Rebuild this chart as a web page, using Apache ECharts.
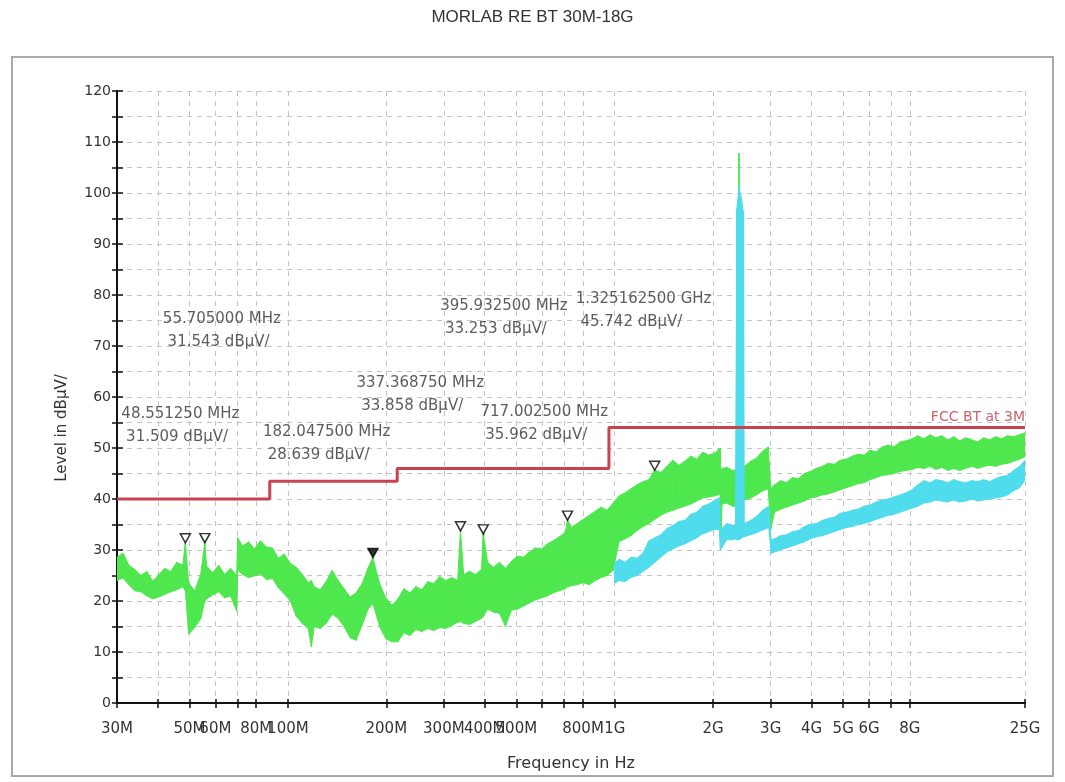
<!DOCTYPE html>
<html>
<head>
<meta charset="utf-8">
<script src="https://cdn.jsdelivr.net/npm/echarts@6/dist/echarts.min.js"></script>
<style>
html,body{margin:0;padding:0;background:#fff;}
#chart{width:1065px;height:782px;}
</style>
</head>
<body>
<div id="chart"></div>
<script>
// ---------- texts ----------
const chartTitle = 'MORLAB RE BT 30M-18G';
const xAxisName = 'Frequency in Hz';
const yAxisName = 'Level in dBµV/';
const limitName = 'FCC BT at 3M';

// ---------- axis ticks (frequency in MHz) ----------
const xTickFreqs  = [30, 40, 50, 60, 70, 80, 100, 200, 300, 400, 500, 600, 700, 800, 1000, 2000, 3000, 4000, 5000, 6000, 7000, 8000, 18000];
const xTickLabels = ['30M', '', '50M', '60M', '', '80M', '100M', '200M', '300M', '400M', '500M', '', '', '800M', '1G', '2G', '3G', '4G', '5G', '6G', '', '8G', '25G'];

// ---------- limit line ----------
const limitFreq  = [30, 88, 88, 216, 216, 960, 960, 18000];
const limitLevel = [40, 40, 43.5, 43.5, 46, 46, 54, 54];

// ---------- green trace (upper / lower envelope of the noisy sweep, MHz / dBµV) ----------
const greenFreq = [30, 31.3, 32.6, 34.0, 35.5, 37.0, 38.6, 40.3, 42.0, 43.8, 45.7, 47.7, 48.55, 49.7, 51.9, 54.1, 55.7, 56.4, 58.9, 61.4, 64.0, 66.8, 69.7, 70.2, 72.7, 75.8, 79.0, 82.4, 86.0, 89.7, 93.5, 97.5, 101.7, 106.1, 110.7, 115.4, 118, 120.4, 125.5, 130.9, 136.6, 142.5, 148.6, 155.0, 161.6, 168.6, 175.8, 182.05, 183.4, 191.3, 199.5, 208.1, 217.0, 226.4, 236.1, 246.3, 256.9, 267.9, 279.4, 291.4, 304.0, 317.0, 330.7, 337.37, 344.9, 359.7, 375.2, 391.3, 395.93, 408.2, 425.7, 444.0, 463.1, 483.1, 503.9, 525.5, 548.1, 571.7, 596.3, 621.9, 648.7, 676.6, 705.7, 717, 736.0, 767.7, 800.7, 835.1, 871.1, 908.5, 947.6, 988.4, 1031, 1075, 1121, 1170, 1220, 1272, 1325, 1384, 1444, 1506, 1571, 1638, 1709, 1782, 1859, 1939, 2022, 2100, 2110, 2130, 2200, 2295, 2390, 2400, 2410, 2496, 2604, 2716, 2833, 2950, 3000, 3081, 3214, 3352, 3497, 3647, 3804, 3968, 4138, 4316, 4502, 4695, 4897, 5108, 5328, 5557, 5796, 6045, 6305, 6576, 6859, 7154, 7462, 7783, 8117, 8466, 8830, 9210, 9606, 10019, 10450, 10899, 11368, 11857, 12367, 12898, 13453, 14031, 14635, 15264, 15920, 16605, 17319, 18000];
const greenHigh = [28.6, 29.4, 27.0, 26.2, 25.0, 25.8, 23.9, 25.2, 26.4, 25.8, 27.6, 27.0, 31.5, 23.5, 22.0, 25.2, 31.5, 26.8, 25.6, 27.0, 25.2, 26.4, 25.0, 32.4, 30.8, 31.6, 30.2, 31.8, 30.6, 30.4, 28.4, 29.2, 27.4, 26.6, 25.2, 23.6, 24.0, 22.8, 22.2, 23.8, 26.0, 24.0, 22.4, 20.8, 21.6, 23.4, 26.4, 28.6, 27.6, 23.2, 20.6, 19.2, 20.4, 22.4, 21.6, 22.8, 22.2, 23.8, 23.4, 24.8, 24.0, 24.6, 24.0, 33.9, 25.2, 25.8, 25.2, 26.2, 33.3, 27.6, 26.6, 27.6, 26.4, 27.8, 28.8, 28.6, 29.6, 30.4, 30.2, 31.2, 31.8, 32.6, 33.4, 36.0, 34.4, 35.2, 36.0, 36.8, 37.6, 38.4, 37.8, 39.2, 40.6, 41.2, 42.0, 42.8, 43.4, 43.8, 45.7, 45.2, 46.4, 47.6, 46.6, 47.4, 48.4, 47.8, 49.2, 48.6, 49.0, 50.0, 44.0, 46.0, 46.2, 45.6, 46.0, 107.8, 46.0, 46.4, 47.4, 48.0, 49.4, 50.2, 42.0, 42.8, 43.6, 43.2, 44.2, 44.0, 45.0, 45.4, 46.0, 46.4, 47.0, 46.8, 47.6, 47.8, 48.4, 48.8, 48.6, 49.6, 49.2, 50.2, 50.6, 50.2, 51.2, 51.4, 51.8, 52.4, 51.8, 52.6, 52.0, 52.4, 51.6, 52.2, 51.4, 52.0, 51.6, 51.2, 52.0, 51.6, 52.2, 51.8, 52.4, 52.2, 52.6, 53.0];
const greenLow  = [24.0, 24.5, 23.2, 22.0, 21.8, 21.0, 20.4, 20.8, 21.3, 21.8, 22.2, 22.8, 22.0, 13.5, 14.8, 16.5, 20.0, 20.4, 21.2, 21.8, 20.6, 21.0, 18.0, 26.0, 25.2, 24.6, 24.9, 25.3, 24.2, 24.4, 22.6, 21.4, 20.0, 17.0, 15.6, 14.6, 11.0, 15.0, 14.6, 15.6, 17.4, 16.6, 15.0, 12.8, 12.3, 15.2, 18.4, 19.5, 18.8, 14.8, 12.6, 12.0, 12.0, 13.8, 13.2, 14.4, 14.0, 14.6, 14.2, 14.8, 14.6, 15.2, 15.8, 16.0, 15.6, 15.4, 16.0, 16.6, 17.0, 18.4, 17.8, 17.6, 15.0, 18.2, 18.4, 19.0, 19.6, 20.2, 20.6, 21.0, 21.6, 22.0, 22.4, 22.8, 23.0, 23.2, 23.6, 23.2, 24.0, 24.6, 25.0, 26.0, 31.6, 32.2, 32.8, 33.8, 34.6, 35.2, 36.0, 36.8, 37.4, 37.8, 38.2, 38.6, 39.0, 39.6, 40.2, 40.4, 40.6, 41.0, 31.3, 39.0, 39.2, 38.6, 38.5, 38.5, 39.0, 39.8, 40.2, 40.8, 41.6, 42.0, 34.0, 37.4, 38.0, 38.4, 38.8, 39.2, 39.6, 40.2, 40.4, 40.8, 41.0, 41.4, 41.8, 42.2, 42.6, 43.0, 43.2, 43.8, 44.2, 44.6, 44.8, 45.0, 45.4, 45.6, 45.8, 46.2, 46.0, 46.4, 45.8, 46.2, 45.6, 46.0, 45.6, 46.0, 46.4, 46.0, 46.4, 46.6, 46.4, 46.8, 47.0, 47.4, 47.8, 48.3];

// ---------- cyan trace ----------
const cyanFreq = [1000, 1031, 1075, 1121, 1170, 1220, 1272, 1327, 1384, 1444, 1506, 1571, 1638, 1709, 1782, 1859, 1939, 2022, 2090, 2105, 2200, 2295, 2340, 2365, 2400, 2440, 2478, 2490, 2604, 2716, 2833, 2960, 3010, 3081, 3214, 3352, 3497, 3647, 3804, 3968, 4138, 4316, 4502, 4695, 4897, 5108, 5328, 5557, 5796, 6045, 6305, 6576, 6859, 7154, 7462, 7783, 8117, 8466, 8830, 9210, 9606, 10019, 10450, 10899, 11368, 11857, 12367, 12898, 13453, 14031, 14635, 15264, 15920, 16605, 17319, 18000];
const cyanHigh = [27.4, 28.2, 27.6, 28.6, 28.4, 29.4, 31.8, 32.4, 33.0, 34.2, 34.8, 35.6, 35.8, 37.0, 37.4, 38.6, 39.0, 39.8, 40.2, 33.9, 35.2, 34.8, 35.0, 97.0, 101.0, 99.0, 96.0, 35.2, 35.8, 36.6, 37.8, 38.6, 32.0, 32.2, 32.8, 33.0, 33.6, 33.8, 34.6, 35.0, 35.2, 35.8, 36.2, 36.4, 37.2, 37.4, 37.8, 38.0, 38.6, 38.8, 39.4, 39.8, 40.0, 40.4, 40.8, 41.2, 41.8, 42.8, 43.6, 43.2, 43.8, 43.6, 43.2, 43.8, 43.4, 43.2, 43.6, 43.4, 43.8, 43.4, 44.0, 44.4, 44.6, 45.6, 46.4, 47.6];
const cyanLow  = [23.5, 24.0, 23.8, 24.6, 25.0, 25.8, 26.6, 27.6, 28.6, 29.6, 30.2, 30.8, 31.2, 31.8, 32.4, 33.2, 33.6, 34.0, 34.0, 30.0, 32.0, 32.0, 32.2, 32.0, 32.0, 32.3, 32.6, 32.6, 33.0, 33.4, 33.9, 34.4, 29.3, 29.6, 30.0, 30.4, 30.8, 31.2, 31.6, 32.2, 32.6, 32.8, 33.2, 33.6, 34.0, 34.4, 34.6, 35.0, 35.2, 35.6, 36.0, 36.4, 36.8, 37.0, 37.4, 37.8, 38.2, 38.6, 39.2, 39.4, 39.8, 39.6, 39.4, 39.8, 39.4, 39.6, 40.0, 39.6, 39.8, 40.0, 40.2, 40.4, 40.8, 41.6, 42.2, 43.7];

// ---------- markers ----------
const markerFreq   = [48.55125, 55.705, 182.0475, 337.36875, 395.9325, 717.0025, 1325.1625];
const markerLevel  = [31.509, 31.543, 28.639, 33.858, 33.253, 35.962, 45.742];
const markerFreqText  = ['48.551250 MHz', '55.705000 MHz', '182.047500 MHz', '337.368750 MHz', '395.932500 MHz', '717.002500 MHz', '1.325162500 GHz'];
const markerLevelText = ['31.509 dBµV/', '31.543 dBµV/', '28.639 dBµV/', '33.858 dBµV/', '33.253 dBµV/', '35.962 dBµV/', '45.742 dBµV/'];
const markerFilled = [false, false, true, false, false, false, false];

// ---------- layout / style ----------
const annotOffsets = [[-64, -113], [-42, -208], [-110, -109], [-104, -132], [-43, -212], [-87, -92], [-79, -155]];
const GREEN = '#4ee84e';
const CYAN = '#4fdcec';
const RED = '#c9434f';
const FONT = 'DejaVu Sans';

const lg = Math.log10;
const xMin = lg(30), xMax = lg(18000);
const tickVals = xTickFreqs.map(lg);
const labelVals = xTickFreqs.filter((f, i) => xTickLabels[i] !== '').map(lg);
function fmtX(v) {
  for (let i = 0; i < xTickFreqs.length; i++) {
    if (Math.abs(lg(xTickFreqs[i]) - v) < 1e-6) return xTickLabels[i];
  }
  return '';
}

// band between low and high envelopes, drawn segment by segment through the axis scales
function band(name, freq, low, high, color, z) {
  const segs = [];
  for (let i = 0; i < freq.length - 1; i++) {
    segs.push([lg(freq[i]), low[i], high[i], lg(freq[i + 1]), low[i + 1], high[i + 1]]);
  }
  return {
    type: 'custom', name: name, z: z, silent: true, clip: true,
    data: segs,
    encode: { x: [0, 3], y: [1, 2, 4, 5] },
    renderItem: function (params, api) {
      const a = api.coord([api.value(0), api.value(2)]);
      const b = api.coord([api.value(3), api.value(5)]);
      const c = api.coord([api.value(3), api.value(4)]);
      const d = api.coord([api.value(0), api.value(1)]);
      return {
        type: 'polygon',
        shape: { points: [a, b, c, d] },
        style: { fill: color, stroke: color, lineWidth: 1 }
      };
    }
  };
}

const gridLine = { show: true, lineStyle: { color: '#c4c4c4', type: [5, 5], width: 1 } };
const axisLineStyle = { color: '#111', width: 2 };
const tickStyle = { color: '#111', width: 1.5 };

const chart = echarts.init(document.getElementById('chart'), null, { renderer: 'canvas' });
const option = {
  animation: false,
  backgroundColor: '#fff',
  title: {
    text: chartTitle, left: 'center', top: 4,
    textStyle: { fontFamily: 'Liberation Sans', fontSize: 17, fontWeight: 'normal', color: '#333' }
  },
  grid: { left: 117, right: 40, top: 91, bottom: 79, containLabel: false, outerBoundsMode: 'none' },
  xAxis: [
    {
      type: 'value', min: xMin, max: xMax,
      name: xAxisName, nameLocation: 'middle', nameGap: 53,
      nameTextStyle: { fontFamily: FONT, fontSize: 16, color: '#333' },
      axisLine: { show: true, onZero: false, lineStyle: axisLineStyle },
      axisTick: { show: true, customValues: tickVals, length: 5, lineStyle: tickStyle },
      axisLabel: { customValues: labelVals, formatter: fmtX, margin: 19, fontFamily: FONT, fontSize: 15, color: '#333' },
      splitLine: gridLine
    },
    {
      type: 'value', min: xMin, max: xMax, position: 'bottom',
      axisLine: { show: false },
      axisTick: { show: true, inside: true, customValues: tickVals, length: 4, lineStyle: tickStyle },
      axisLabel: { show: false },
      splitLine: { show: false }
    }
  ],
  yAxis: [
    {
      type: 'value', min: 0, max: 120, interval: 5, position: 'left',
      axisLine: { show: true, onZero: false, lineStyle: axisLineStyle },
      axisTick: { show: true, length: 5, lineStyle: tickStyle },
      axisLabel: { formatter: v => (v % 10 === 0 ? String(v) : ''), margin: 6, fontFamily: FONT, fontSize: 14, color: '#333' },
      splitLine: gridLine
    },
    {
      type: 'value', min: 0, max: 120, interval: 5, position: 'left',
      axisLine: { show: false },
      axisTick: { show: true, inside: true, length: 6, lineStyle: tickStyle },
      axisLabel: { show: false },
      splitLine: { show: false }
    }
  ],
  graphic: [
    {
      type: 'rect', silent: true, z: -1,
      shape: { x: 12, y: 57, width: 1041, height: 719 },
      style: { fill: null, stroke: '#a9a9a9', lineWidth: 2 }
    },
    {
      type: 'text', silent: true, x: 62, y: 428, rotation: Math.PI / 2,
      style: { text: yAxisName, fill: '#333', fontFamily: FONT, fontSize: 15, align: 'center', verticalAlign: 'middle' }
    }
  ],
  series: [
    band('green', greenFreq, greenLow, greenHigh, GREEN, 2),
    band('cyan', cyanFreq, cyanLow, cyanHigh, CYAN, 3),
    {
      type: 'line', name: limitName, symbol: 'none', z: 4, silent: true,
      data: limitFreq.map((f, i) => [lg(f), limitLevel[i]]),
      lineStyle: { color: RED, width: 3 },
      endLabel: {
        show: true, formatter: limitName, align: 'right', verticalAlign: 'bottom',
        distance: 0, offset: [0, -3],
        color: '#d0606c', fontFamily: FONT, fontSize: 14
      }
    },
    {
      type: 'scatter', name: 'markers', z: 5, silent: true,
      symbol: 'triangle', symbolRotate: 180, symbolSize: [10, 9], symbolOffset: [0, -4],
      data: markerFreq.map((f, i) => ({
        value: [lg(f), markerLevel[i]],
        itemStyle: { color: markerFilled[i] ? '#000' : '#fff', borderColor: '#000', borderWidth: 1.5 },
        label: {
          show: true, position: 'inside', align: 'left', verticalAlign: 'middle',
          offset: annotOffsets[i],
          formatter: markerFreqText[i] + '\n ' + markerLevelText[i],
          color: '#333', fontFamily: FONT, fontSize: 15, lineHeight: 23
        }
      }))
    }
  ]
};
chart.setOption(option);
</script>
</body>
</html>
